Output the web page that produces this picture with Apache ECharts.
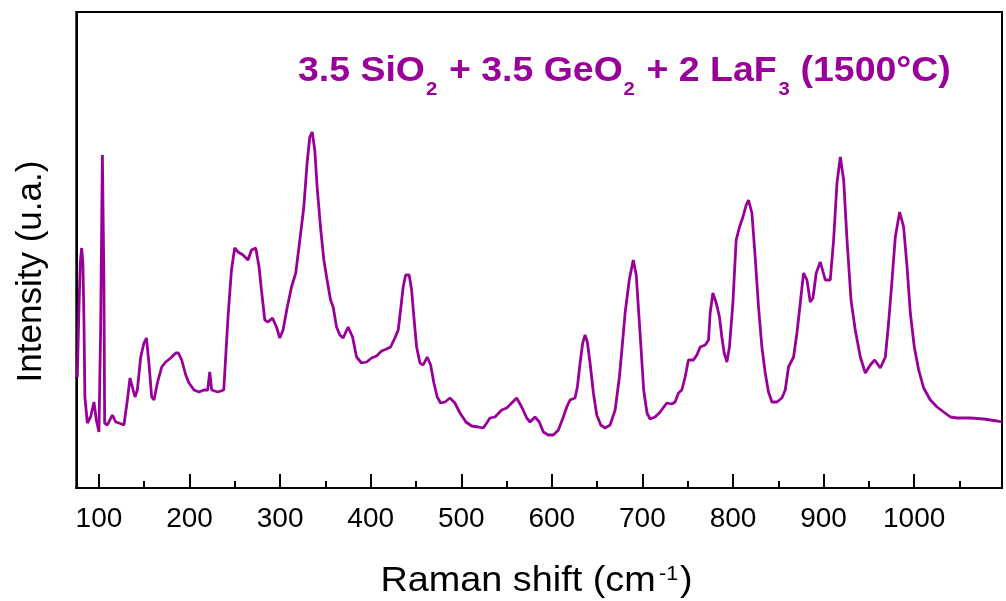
<!DOCTYPE html>
<html>
<head>
<meta charset="utf-8">
<script src="https://cdn.jsdelivr.net/npm/echarts@6/dist/echarts.min.js"></script>
<style>
html,body{margin:0;padding:0;background:#fff;}
#chart{width:1006px;height:601px;}
</style>
</head>
<body>
<div id="chart"></div>
<script>
// Raman shift (cm-1)
var ramanShift = [76.1,77.9,79.4,80.9,82.3,83.4,84.5,87.2,90.8,94.5,
97.1,100,101.9,103.8,105.5,106.3,109.3,114.8,118.5,122.1,
127.6,131.4,134.3,136.9,139.8,142.4,146.1,149.7,152.4,155.2,
158.2,160.8,164.5,169.3,173.7,179.2,184.8,187.7,191.4,195.8,
199.4,205,210.5,216,220.1,222.3,224.5,231.2,237.8,242.5,
246.3,249.9,253.6,259.1,264.6,268.4,273.1,276.8,279.4,283.1,
286.7,291.6,296,299.7,303.3,307.7,312.6,317.3,321.8,326.2,
329.8,332.8,335.4,338.3,340.9,344.6,348.3,351.9,355.7,358.6,
362.3,366,369.6,375.1,380,384.4,389.9,395.5,401,406.5,
412,417.6,422,426.7,430.4,433,435.9,438.6,442.5,445.2,
447.7,450.7,454.4,458,462.4,466.2,469.8,473.5,477.2,482,
487.5,493,498.6,505.2,511.5,518.8,524.3,528.1,531.7,537.2,
544.6,550.2,555.7,561.2,566.7,572.3,575.9,581.4,586.2,590.6,
596.1,601.7,607.2,612.3,616.5,620.1,625.6,628.2,631.2,634.1,
636.7,639.2,642.2,645.9,649.6,654,658.8,664.3,669.9,674.6,
678.3,680.9,685.5,689.9,693.2,697.9,701.4,705.1,708.5,714,
719.6,726.9,732.5,736.1,739.8,743.5,747.2,750.8,756.4,760.1,
763.8,769.3,773,774.8,777.8,781.5,785.1,787.7,790.3,793.3,
796.1,799.9,803.5,807.2,811,814.6,817.1,820.9,824.5,828.2,
831.9,835.6,839.2,843,848.5,854,857.7,861.3,866.9,870.6,
874.3,877.9,881.7,885.3,888.3,891.9,896.4,901.9,907.4,911.1,
914.8,918.5,922.2,925.9,930.3,935,940.6,946.1,951.6,956.4,
962.7,968.2,971.8,975.6,979.2,984,988.4,992.2,995.8,1000.2,
1005,1010.5,1017.9,1025.3,1032.6,1040,1047.4,1062.1,1076.8,1091.6,
1097];
// Intensity (arbitrary units)
var intensity = [111,178,225,240,225,171,91,65,71,86,
68,56,161,333,206,65,63,73,66,65,
63,88,110,101,91,98,131,145,150,125,
91,88,105,121,126,130,135,135,128,113,
105,98,96,98,98,116,98,96,98,171,
218,240,236,233,228,238,240,221,198,168,
166,170,161,150,158,180,201,215,248,281,
325,351,356,338,301,261,228,208,188,181,
161,153,150,161,151,131,125,126,130,132,
137,139,141,150,158,178,201,213,213,198,
171,141,125,123,131,123,105,91,85,86,
90,85,75,66,62,61,60,65,70,71,
78,80,85,90,81,70,66,71,66,56,
53,53,58,70,81,88,90,101,125,145,
153,146,125,95,73,63,60,63,78,111,
148,175,208,228,213,148,98,75,69,71,
76,85,84,86,95,98,111,128,128,133,
141,143,148,175,195,185,171,151,135,126,
141,185,248,261,271,283,288,275,231,181,
141,115,96,86,86,90,98,121,131,155,
185,215,208,186,190,215,226,208,208,248,
305,331,308,248,188,158,131,115,123,128,
120,131,165,208,251,276,261,221,175,141,
118,100,88,81,76,71,70,70,69,67,
66];
var majorTicks = [100,200,300,400,500,600,700,800,900,1000];
var minorTicks = [150,250,350,450,550,650,750,850,950,1050];

var FONT = '"Liberation Sans", Arial, sans-serif';
var PURPLE = '#990099';

var chart = echarts.init(document.getElementById('chart'), null, {renderer:'canvas'});
var seriesData = ramanShift.map(function(w, i){ return [w, intensity[i]]; });

function txt(text, x, y, size, weight, color, sx, align){
  return {
    type:'text', x:x, y:y, scaleX:sx||1, scaleY:1, silent:true, z:100,
    style:{ text:text, x:0, y:0, fill:color, font: weight+' '+size+'px '+FONT,
      textAlign: align||'left', textVerticalAlign:'middle', align: align||'left', verticalAlign:'middle' }
  };
}

var gr = [];
// title pieces
var tS = 1.07;
gr.push(txt('3.5 SiO', 298, 71.2, 35, 'bold', PURPLE, tS));
gr.push(txt('2', 426, 89.4, 19, 'bold', PURPLE, tS));
gr.push(txt('+ 3.5 GeO', 449, 71.2, 35, 'bold', PURPLE, tS));
gr.push(txt('2', 623.5, 89.4, 19, 'bold', PURPLE, tS));
gr.push(txt('+ 2 LaF', 646.5, 71.2, 35, 'bold', PURPLE, tS));
gr.push(txt('3', 778.5, 89.4, 19, 'bold', PURPLE, tS));
gr.push(txt('(1500°C)', 800.5, 71.2, 35, 'bold', PURPLE, tS));
// x axis name
gr.push(txt('Raman shift (cm', 380.5, 580.9, 35, 'normal', '#000', 1.08));
gr.push(txt('-1', 659, 574.8, 20, 'normal', '#000', 1.08));
gr.push(txt(')', 680, 580.9, 35, 'normal', '#000', 1.08));
// y axis name
gr.push({
  type:'text', x:31, y:271.5, rotation:Math.PI/2, silent:true, z:100,
  style:{ text:'Intensity (u.a.)', x:0, y:0, fill:'#000', font:'normal 35px '+FONT,
    textAlign:'center', textVerticalAlign:'middle', align:'center', verticalAlign:'middle' }
});

chart.setOption({
  animation:false,
  backgroundColor:'#fff',
  grid:{ left:76.3, right:4, top:12, bottom:113, show:true, borderColor:'#000', borderWidth:2, backgroundColor:'transparent' },
  xAxis:[{
    type:'value', min:75, max:1097, gridIndex:0, position:'bottom',
    axisLine:{ show:true, lineStyle:{ color:'#000', width:2 } },
    axisTick:{ show:true, inside:true, length:14, lineStyle:{ color:'#000', width:2 }, customValues: majorTicks },
    axisLabel:{ show:true, color:'#000', fontSize:28, fontFamily:FONT, margin:17, customValues: majorTicks,
      formatter:function(v){ return String(v); } },
    splitLine:{ show:false }
  },{
    type:'value', min:75, max:1097, gridIndex:0, position:'bottom',
    axisLine:{ show:false },
    axisTick:{ show:true, inside:true, length:7, lineStyle:{ color:'#000', width:2 }, customValues: minorTicks },
    axisLabel:{ show:false },
    splitLine:{ show:false }
  }],
  yAxis:{
    type:'value', min:0, max:476,
    axisLine:{ show:true, lineStyle:{ color:'#000', width:2 } },
    axisTick:{ show:false }, axisLabel:{ show:false }, splitLine:{ show:false }
  },
  series:[{
    type:'line', xAxisIndex:0, yAxisIndex:0, data:seriesData, showSymbol:false, symbol:'none',
    lineStyle:{ color:PURPLE, width:2.8 }, smooth:false, clip:true
  }],
  graphic: gr
});
</script>
</body>
</html>
